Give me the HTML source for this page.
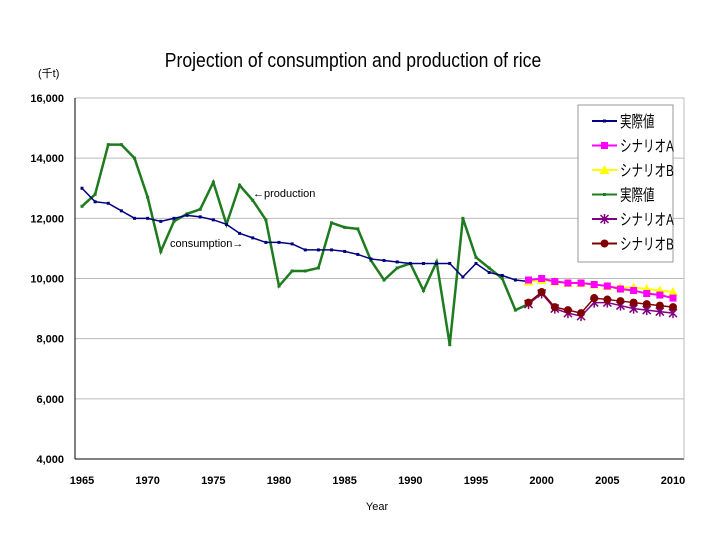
<!DOCTYPE html>
<html><head><meta charset="utf-8"><style>
body{margin:0;background:#fff;font-family:"Liberation Sans","Noto Sans CJK JP",sans-serif}
svg text{font-family:"Liberation Sans","Noto Sans CJK JP",sans-serif}
</style></head><body>
<svg id="c" width="720" height="540">
<text x="353" y="67" text-anchor="middle" font-size="20" transform="translate(353 0) scale(0.88 1) translate(-353 0)">Projection of consumption and production of rice</text>
<text x="38" y="77" font-size="11">(千t)</text>
<text x="377" y="510" text-anchor="middle" font-size="11">Year</text>
<text x="253" y="197" font-size="11">←production</text>
<text x="170" y="247" font-size="11">consumption→</text>
<g id="grid"></g><g id="marks"></g>
<g>
<rect x="578" y="105" width="95" height="157" fill="#fff" stroke="#999"/>
<g id="leg"></g></g>
</svg>
<script>
const years=[1965,1966,1967,1968,1969,1970,1971,1972,1973,1974,1975,1976,1977,1978,1979,1980,1981,1982,1983,1984,1985,1986,1987,1988,1989,1990,1991,1992,1993,1994,1995,1996,1997,1998,1999];
const consumption=[13000,12550,12500,12250,12000,12000,11900,12000,12100,12050,11950,11800,11500,11350,11200,11200,11150,10950,10950,10950,10900,10800,10650,10600,10550,10500,10500,10500,10500,10050,10500,10200,10100,9950,9900];
const production=[12400,12800,14450,14450,14000,12700,10900,11900,12150,12300,13200,11800,13100,12600,11950,9750,10250,10250,10350,11850,11700,11650,10600,9950,10350,10500,9600,10550,7800,12000,10700,10350,10000,8950,9150];
const projYears=[1999,2000,2001,2002,2003,2004,2005,2006,2007,2008,2009,2010];
const consA=[9950,10000,9900,9850,9850,9800,9750,9650,9600,9500,9450,9350];
const consB=[9900,9950,9900,9850,9850,9800,9750,9700,9700,9650,9600,9550];
const prodA=[9150,9500,9000,8850,8750,9200,9200,9100,9000,8950,8900,8850];
const prodB=[9200,9550,9050,8950,8850,9350,9300,9250,9200,9150,9100,9050];
const yTicks=[4000,6000,8000,10000,12000,14000,16000];
const xTicks=[1965,1970,1975,1980,1985,1990,1995,2000,2005,2010];
const NS='http://www.w3.org/2000/svg';
const X=y=>82+(y-1965)*(591/45), Y=v=>459-(v-4000)*(361/12000);
function mk(t,a,p){const e=document.createElementNS(NS,t);for(const k in a)e.setAttribute(k,a[k]);p.appendChild(e);return e;}
const g=document.getElementById('grid'),m=document.getElementById('marks'),lg=document.getElementById('leg');
yTicks.forEach(v=>{const l=mk('line',{x1:75,x2:684,y1:Y(v),y2:Y(v),stroke:v==4000?'#000':'#bbb'},g);


const t=mk('text',{x:64,y:Y(v)+4,'text-anchor':'end','font-size':11,'font-weight':'bold'},g);t.textContent=v.toLocaleString('en-US');

});
mk('line',{x1:75,x2:75,y1:98,y2:459,stroke:'#000'},g);
mk('line',{x1:684,x2:684,y1:98,y2:459,stroke:'#bbb'},g);
xTicks.forEach(y=>{const t=mk('text',{x:X(y),y:484,'text-anchor':'middle','font-size':11,'font-weight':'bold'},g);t.textContent=y;

});
function marker(type,x,y,col,p){
 if(type=='dot')mk('rect',{x:x-1.5,y:y-1.5,width:3,height:3,fill:col},p);
 else if(type=='sq')mk('rect',{x:x-3.5,y:y-3.5,width:7,height:7,fill:col},p);
 else if(type=='tri')mk('path',{d:`M${x},${y-5}L${x+5},${y+4}L${x-5},${y+4}Z`,fill:col},p);
 else if(type=='star')mk('path',{d:`M${x-4},${y-4}L${x+4},${y+4}M${x+4},${y-4}L${x-4},${y+4}M${x},${y-5}L${x},${y+5}`,stroke:col,'stroke-width':1.5},p);
 else if(type=='circ')mk('circle',{cx:x,cy:y,r:4,fill:col},p);
}
function series(name,xs,vs,col,w,type){
 const s=mk('g',{},m);
 
 
 mk('polyline',{points:xs.map((y,i)=>X(y)+','+Y(vs[i])).join(' '),fill:'none',stroke:col,'stroke-width':w},s);
 xs.forEach((y,i)=>marker(type,X(y),Y(vs[i]),col,s));
}
series('production-line',years,production,'#1e7b1e',2.5,'dot');
series('consumption-line',years,consumption,'#000080',1.5,'dot');
series('consumption-scenario-b',projYears,consB,'#ffff00',2,'tri');
series('consumption-scenario-a',projYears,consA,'#ff00ff',2,'sq');
series('production-scenario-a',projYears,prodA,'#800080',1.5,'star');
series('production-scenario-b',projYears,prodB,'#800000',1.5,'circ');
const legNames=['実際値','シナリオA','シナリオB','実際値','シナリオA','シナリオB'];
const legCols=['#000080','#ff00ff','#ffff00','#1e7b1e','#800080','#800000'];
const legTypes=['dot','sq','tri','dot','star','circ'];
legNames.forEach((n,i)=>{const yy=121+i*24.5;const e=mk('g',{},lg);


mk('line',{x1:592,x2:617,y1:yy,y2:yy,stroke:legCols[i],'stroke-width':2},e);
marker(legTypes[i],604.5,yy,legCols[i],e);
const t=mk('text',{x:620,y:yy+6,'font-size':16,transform:`translate(620 0) scale(0.72 1) translate(-620 0)`},e);t.textContent=n;});
</script>
</body></html>
